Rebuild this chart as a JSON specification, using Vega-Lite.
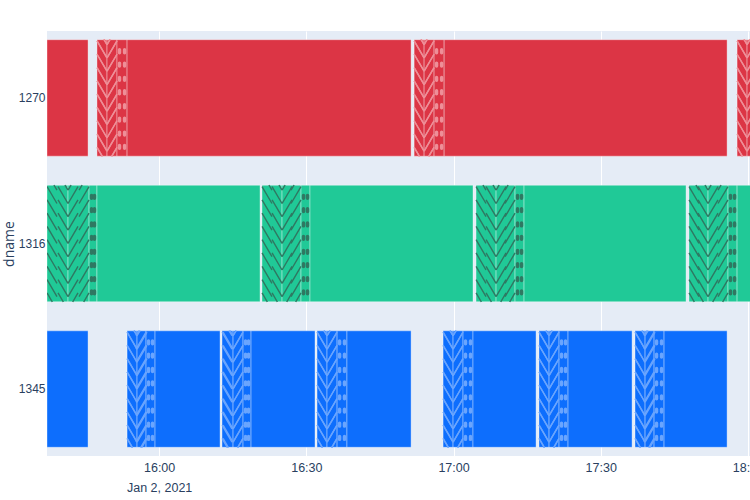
{
  "$schema": "https://vega.github.io/schema/vega-lite/v6.json",
  "autosize": {"type": "none"},
  "padding": {"left": 47, "top": 31, "right": 0, "bottom": 44},
  "width": 703,
  "height": 425,
  "background": "white",
  "config": {
    "view": {"fill": "#e5ecf6", "stroke": null},
    "font": "Liberation Sans Narrow, Liberation Sans",
    "axis": {"labelColor": "#2a3f5f", "titleColor": "#2a3f5f"}
  },
  "data": {
    "values": [
      {"dname": "1270", "phase": "main", "start": "2021-01-02T15:37:09", "end": "2021-01-02T15:45:31"},
      {"dname": "1270", "phase": "phase 1", "start": "2021-01-02T15:47:20", "end": "2021-01-02T15:49:23"},
      {"dname": "1270", "phase": "phase 2", "start": "2021-01-02T15:49:23", "end": "2021-01-02T15:51:25"},
      {"dname": "1270", "phase": "phase 3", "start": "2021-01-02T15:51:25", "end": "2021-01-02T15:53:28"},
      {"dname": "1270", "phase": "main", "start": "2021-01-02T15:53:28", "end": "2021-01-02T16:51:21"},
      {"dname": "1270", "phase": "phase 1", "start": "2021-01-02T16:51:58", "end": "2021-01-02T16:54:00"},
      {"dname": "1270", "phase": "phase 2", "start": "2021-01-02T16:54:00", "end": "2021-01-02T16:56:02"},
      {"dname": "1270", "phase": "phase 3", "start": "2021-01-02T16:56:02", "end": "2021-01-02T16:58:05"},
      {"dname": "1270", "phase": "main", "start": "2021-01-02T16:58:05", "end": "2021-01-02T17:55:45"},
      {"dname": "1270", "phase": "phase 1", "start": "2021-01-02T17:57:47", "end": "2021-01-02T17:59:49"},
      {"dname": "1270", "phase": "phase 2", "start": "2021-01-02T17:59:49", "end": "2021-01-02T18:01:51"},
      {"dname": "1270", "phase": "phase 3", "start": "2021-01-02T18:01:51", "end": "2021-01-02T18:03:53"},
      {"dname": "1270", "phase": "main", "start": "2021-01-02T18:03:53", "end": "2021-01-02T18:30:00"},
      {"dname": "1316", "phase": "phase 1", "start": "2021-01-02T15:37:09", "end": "2021-01-02T15:41:26"},
      {"dname": "1316", "phase": "phase 2", "start": "2021-01-02T15:41:26", "end": "2021-01-02T15:45:43"},
      {"dname": "1316", "phase": "phase 3", "start": "2021-01-02T15:45:43", "end": "2021-01-02T15:47:20"},
      {"dname": "1316", "phase": "main", "start": "2021-01-02T15:47:20", "end": "2021-01-02T16:20:34"},
      {"dname": "1316", "phase": "phase 1", "start": "2021-01-02T16:20:58", "end": "2021-01-02T16:25:03"},
      {"dname": "1316", "phase": "phase 2", "start": "2021-01-02T16:25:03", "end": "2021-01-02T16:28:55"},
      {"dname": "1316", "phase": "phase 3", "start": "2021-01-02T16:28:55", "end": "2021-01-02T16:30:45"},
      {"dname": "1316", "phase": "main", "start": "2021-01-02T16:30:45", "end": "2021-01-02T17:03:58"},
      {"dname": "1316", "phase": "phase 1", "start": "2021-01-02T17:04:35", "end": "2021-01-02T17:08:40"},
      {"dname": "1316", "phase": "phase 2", "start": "2021-01-02T17:08:40", "end": "2021-01-02T17:12:32"},
      {"dname": "1316", "phase": "phase 3", "start": "2021-01-02T17:12:32", "end": "2021-01-02T17:14:22"},
      {"dname": "1316", "phase": "main", "start": "2021-01-02T17:14:22", "end": "2021-01-02T17:47:23"},
      {"dname": "1316", "phase": "phase 1", "start": "2021-01-02T17:47:59", "end": "2021-01-02T17:51:52"},
      {"dname": "1316", "phase": "phase 2", "start": "2021-01-02T17:51:52", "end": "2021-01-02T17:55:56"},
      {"dname": "1316", "phase": "phase 3", "start": "2021-01-02T17:55:56", "end": "2021-01-02T17:57:47"},
      {"dname": "1316", "phase": "main", "start": "2021-01-02T17:57:47", "end": "2021-01-02T18:30:00"},
      {"dname": "1345", "phase": "main", "start": "2021-01-02T15:37:09", "end": "2021-01-02T15:45:31"},
      {"dname": "1345", "phase": "phase 1", "start": "2021-01-02T15:53:28", "end": "2021-01-02T15:55:30"},
      {"dname": "1345", "phase": "phase 2", "start": "2021-01-02T15:55:30", "end": "2021-01-02T15:57:20"},
      {"dname": "1345", "phase": "phase 3", "start": "2021-01-02T15:57:20", "end": "2021-01-02T15:59:10"},
      {"dname": "1345", "phase": "main", "start": "2021-01-02T15:59:10", "end": "2021-01-02T16:12:25"},
      {"dname": "1345", "phase": "phase 1", "start": "2021-01-02T16:12:49", "end": "2021-01-02T16:15:04"},
      {"dname": "1345", "phase": "phase 2", "start": "2021-01-02T16:15:04", "end": "2021-01-02T16:17:06"},
      {"dname": "1345", "phase": "phase 3", "start": "2021-01-02T16:17:06", "end": "2021-01-02T16:18:44"},
      {"dname": "1345", "phase": "main", "start": "2021-01-02T16:18:44", "end": "2021-01-02T16:31:46"},
      {"dname": "1345", "phase": "phase 1", "start": "2021-01-02T16:32:11", "end": "2021-01-02T16:34:13"},
      {"dname": "1345", "phase": "phase 2", "start": "2021-01-02T16:34:13", "end": "2021-01-02T16:36:16"},
      {"dname": "1345", "phase": "phase 3", "start": "2021-01-02T16:36:16", "end": "2021-01-02T16:38:17"},
      {"dname": "1345", "phase": "main", "start": "2021-01-02T16:38:17", "end": "2021-01-02T16:51:21"},
      {"dname": "1345", "phase": "phase 1", "start": "2021-01-02T16:57:52", "end": "2021-01-02T16:59:54"},
      {"dname": "1345", "phase": "phase 2", "start": "2021-01-02T16:59:54", "end": "2021-01-02T17:01:56"},
      {"dname": "1345", "phase": "phase 3", "start": "2021-01-02T17:01:56", "end": "2021-01-02T17:03:58"},
      {"dname": "1345", "phase": "main", "start": "2021-01-02T17:03:58", "end": "2021-01-02T17:16:49"},
      {"dname": "1345", "phase": "phase 1", "start": "2021-01-02T17:17:25", "end": "2021-01-02T17:19:28"},
      {"dname": "1345", "phase": "phase 2", "start": "2021-01-02T17:19:28", "end": "2021-01-02T17:21:30"},
      {"dname": "1345", "phase": "phase 3", "start": "2021-01-02T17:21:30", "end": "2021-01-02T17:23:20"},
      {"dname": "1345", "phase": "main", "start": "2021-01-02T17:23:20", "end": "2021-01-02T17:36:23"},
      {"dname": "1345", "phase": "phase 1", "start": "2021-01-02T17:36:59", "end": "2021-01-02T17:39:02"},
      {"dname": "1345", "phase": "phase 2", "start": "2021-01-02T17:39:02", "end": "2021-01-02T17:40:52"},
      {"dname": "1345", "phase": "phase 3", "start": "2021-01-02T17:40:52", "end": "2021-01-02T17:42:54"},
      {"dname": "1345", "phase": "main", "start": "2021-01-02T17:42:54", "end": "2021-01-02T17:55:45"}
    ]
  },
  "layer": [
    {
      "mark": {"type": "bar", "stroke": "white", "strokeWidth": 0.6, "strokeOpacity": 0.6, "clip": true},
      "encoding": {
        "x": {
          "field": "start", "type": "temporal", "title": null,
          "scale": {"domain": [
            {"year": 2021, "month": 1, "date": 2, "hours": 15, "minutes": 37, "seconds": 9},
            {"year": 2021, "month": 1, "date": 2, "hours": 18, "minutes": 0, "seconds": 25}
          ]},
          "axis": {
            "values": [
              {"year": 2021, "month": 1, "date": 2, "hours": 16, "minutes": 0},
              {"year": 2021, "month": 1, "date": 2, "hours": 16, "minutes": 30},
              {"year": 2021, "month": 1, "date": 2, "hours": 17, "minutes": 0},
              {"year": 2021, "month": 1, "date": 2, "hours": 17, "minutes": 30},
              {"year": 2021, "month": 1, "date": 2, "hours": 18, "minutes": 0}
            ],
            "labelExpr": "timeFormat(datum.value, '%H:%M') == '16:00' ? ['16:00', 'Jan 2, 2021'] : timeFormat(datum.value, '%H:%M')",
            "labelFlush": false,
            "labelOverlap": false,
            "labelFontSize": 12.5,
            "labelLineHeight": 20,
            "labelPadding": 5,
            "labelBaseline": "top",
            "domain": false,
            "ticks": false,
            "grid": true,
            "gridColor": "white",
            "gridWidth": 1,
            "gridOpacity": 1
          }
        },
        "x2": {"field": "end"},
        "y": {
          "field": "dname", "type": "nominal", "title": "dname",
          "scale": {"domain": ["1270", "1316", "1345"], "paddingInner": 0.2, "paddingOuter": 0.06},
          "axis": {
            "domain": false, "ticks": false, "grid": false,
            "labelFontSize": 12, "labelPadding": 2,
            "titleFont": "Open Sans", "titleFontSize": 14, "titleFontWeight": "normal",
            "titleX": -38, "titleBaseline": "middle", "titleAngle": -90
          }
        },
        "color": {
          "field": "dname", "type": "nominal", "legend": null,
          "scale": {"domain": ["1270", "1316", "1345"], "range": ["#dc3545", "#20c997", "#0d6efd"]}
        }
      }
    },
    {
      "transform": [{"filter": {"field": "phase", "oneOf": ["phase 1", "phase 2"]}}],
      "mark": {"type": "point", "filled": false, "size": 13689, "strokeWidth": 1.4, "opacity": 1, "xOffset": 5, "clip": true},
      "encoding": {
        "x": {"field": "start", "type": "temporal", "title": null},
        "y": {"field": "dname", "type": "nominal", "title": "dname"},
        "shape": {
          "field": "phase", "type": "nominal", "legend": null,
          "scale": {"domain": ["phase 1", "phase 2"], "range": [
            "M0.033,-1L0.085,-0.911M-0.085,-0.974L0.085,-0.684M-0.085,-0.747L0.085,-0.458M-0.085,-0.52L0.085,-0.229M-0.085,-0.292L0.085,-0.002M-0.085,-0.065L0.085,0.226M-0.085,0.162L0.085,0.453M-0.085,0.39L0.085,0.68M-0.085,0.617L0.085,0.908M-0.085,0.844L0.006,1",
            "M-0.033,-1L-0.085,-0.911M0.085,-0.974L-0.085,-0.684M0.085,-0.747L-0.085,-0.458M0.085,-0.52L-0.085,-0.229M0.085,-0.292L-0.085,-0.002M0.085,-0.065L-0.085,0.226M0.085,0.162L-0.085,0.453M0.085,0.39L-0.085,0.68M0.085,0.617L-0.085,0.908M0.085,0.844L-0.006,1"
          ]}
        },
        "stroke": {
          "field": "dname", "type": "nominal", "legend": null,
          "scale": {"domain": ["1270", "1316", "1345"], "range": ["#ee8f98", "#2f7862", "#6aa5fe"]}
        }
      }
    },
    {
      "transform": [{"filter": {"field": "phase", "oneOf": ["phase 1", "phase 2"]}}],
      "mark": {"type": "point", "filled": false, "size": 13689, "strokeWidth": 1.4, "opacity": 1, "xOffset": -5, "clip": true},
      "encoding": {
        "x": {"field": "end", "type": "temporal", "title": null},
        "y": {"field": "dname", "type": "nominal", "title": "dname"},
        "shape": {"field": "phase", "type": "nominal", "legend": null},
        "stroke": {"field": "dname", "type": "nominal", "legend": null}
      }
    },
    {
      "transform": [{"filter": {"field": "phase", "equal": "phase 3"}}],
      "mark": {"type": "point", "filled": false, "size": 13689, "strokeWidth": 3.4, "strokeCap": "round", "opacity": 1, "xOffset": 2.5, "clip": true,
        "shape": "M0,-0.823L0,-0.773M0,-0.596L0,-0.546M0,-0.351L0,-0.301M0,-0.122L0,-0.072M0,0.117L0,0.167M0,0.344L0,0.394M0,0.584L0,0.634M0,0.811L0,0.861"},
      "encoding": {
        "x": {"field": "start", "type": "temporal", "title": null},
        "y": {"field": "dname", "type": "nominal", "title": "dname"},
        "stroke": {"field": "dname", "type": "nominal", "legend": null}
      }
    },
    {
      "transform": [{"filter": {"field": "phase", "equal": "phase 3"}}],
      "mark": {"type": "point", "filled": false, "size": 13689, "strokeWidth": 3.4, "strokeCap": "round", "opacity": 1, "xOffset": -2.5, "clip": true,
        "shape": "M0,-0.823L0,-0.773M0,-0.596L0,-0.546M0,-0.351L0,-0.301M0,-0.122L0,-0.072M0,0.117L0,0.167M0,0.344L0,0.394M0,0.584L0,0.634M0,0.811L0,0.861"},
      "encoding": {
        "x": {"field": "end", "type": "temporal", "title": null},
        "y": {"field": "dname", "type": "nominal", "title": "dname"},
        "stroke": {"field": "dname", "type": "nominal", "legend": null}
      }
    }
  ]
}
